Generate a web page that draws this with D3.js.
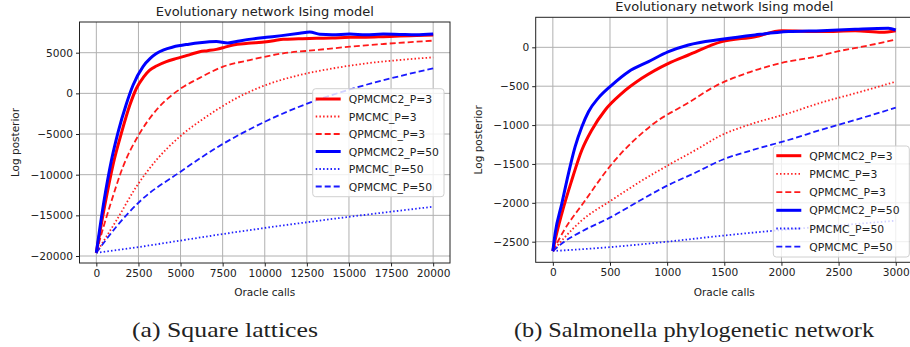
<!DOCTYPE html>
<html>
<head>
<meta charset="utf-8">
<script src="https://cdn.jsdelivr.net/npm/d3@7"></script>
<style>
  body { margin: 0; background: #fff; }
  svg text { font-family: "DejaVu Sans", sans-serif; fill: #222; }
</style>
</head>
<body>
<script>
var width = 910, height = 347;

var seriesNames = ["QPMCMC2_P=3", "PMCMC_P=3", "QPMCMC_P=3",
                   "QPMCMC2_P=50", "PMCMC_P=50", "QPMCMC_P=50"];
var seriesColor = ["#ff0000", "#ff2020", "#ff1a1a", "#0000ff", "#2020ff", "#1a1aff"];
var seriesKind = ["solid", "dotted", "dashed", "solid", "dotted", "dashed"];

// (a) square lattices: [oracle calls, log posterior]
var latQPMCMC2_P3 = [[0,-19600],[500,-13800],[1000,-8700],[1500,-4800],[1980,-1500],[2376,600],
  [2800,2000],[3168,2870],[3600,3400],[4158,3900],[4600,4200],[5148,4510],[5600,4800],
  [6138,5125],[6600,5250],[7128,5410],[7600,5650],[8118,5945],[9000,6150],[10099,6355],[10600,6500],
  [11089,6640],[12000,6700],[13069,6765],[14000,6800],[15050,6890],[16000,6900],[17030,6970],
  [18000,7050],[19000,7100],[20000,7175]];
var latPMCMC_P3 = [[0,-19600],[600,-17600],[1200,-15600],[2376,-11480],[3564,-8200],[4950,-5330],
  [6534,-2870],[8118,-820],[9703,740],[12079,2255],[14059,3075],[16040,3690],[18000,4100],[20000,4430]];
var latQPMCMC_P3 = [[0,-19600],[400,-16600],[792,-13940],[1584,-9020],[2574,-4920],[3564,-2050],
  [4950,500],[6138,1900],[7524,3280],[9109,4100],[11089,4920],[13069,5330],[15050,5740],
  [17030,6070],[20000,6480]];
var latQPMCMC2_P50 = [[0,-19600],[450,-13300],[900,-8200],[1300,-4700],[1782,-1300],[2178,1000],
  [2772,3300],[3200,4300],[3564,4900],[4000,5350],[4554,5700],[5500,6050],[6138,6230],
  [7128,6380],[7800,6200],[8500,6450],[9300,6700],[10099,6890],[11000,7100],[12079,7380],
  [12673,7550],[13267,7260],[14000,7200],[15050,7300],[16000,7200],[17030,7300],[18000,7250],
  [19000,7200],[20000,7300]];
var latPMCMC_P50 = [[0,-19600],[2500,-18900],[5000,-18100],[7500,-17300],[10000,-16550],
  [12500,-15850],[15050,-15170],[17500,-14550],[20000,-13940]];
var latQPMCMC_P50 = [[0,-19600],[1188,-16400],[2574,-13300],[4950,-9700],[7128,-6700],
  [10099,-3400],[12475,-1300],[15000,450],[17500,1850],[20000,3075]];

// (b) salmonella phylogenetic network
var salQPMCMC2_P3 = [[0,-2620],[20,-2478],[79,-2135],[166,-1707],[254,-1321],[341,-1063],
  [458,-806],[603,-592],[778,-399],[1012,-206],[1186,-99],[1478,73],[1769,137],[2003,214],
  [2352,202],[2644,214],[2877,193],[3000,214]];
var salPMCMC_P3 = [[0,-2620],[100,-2450],[250,-2230],[516,-1964],[750,-1740],[1012,-1514],
  [1250,-1320],[1478,-1128],[1750,-980],[2061,-849],[2350,-710],[2644,-592],[3000,-442]];
var salQPMCMC_P3 = [[0,-2620],[100,-2350],[268,-2000],[516,-1500],[866,-1000],[1200,-700],
  [1420,-500],[1700,-330],[2003,-200],[2300,-120],[2500,-50],[2750,20],[3000,100]];
var salQPMCMC2_P50 = [[0,-2620],[20,-2393],[79,-2007],[137,-1621],[195,-1278],[254,-1021],
  [312,-828],[399,-650],[516,-485],[662,-313],[837,-184],[1012,-56],[1186,30],[1478,103],
  [1769,159],[2061,202],[2352,214],[2644,232],[2935,244],[3000,223]];
var salPMCMC_P50 = [[0,-2620],[500,-2570],[1000,-2500],[1500,-2420],[2000,-2350],[2500,-2290],[3000,-2230]];
var salQPMCMC_P50 = [[0,-2620],[100,-2500],[250,-2370],[516,-2178],[750,-1980],[1012,-1771],
  [1250,-1610],[1478,-1449],[1750,-1320],[2061,-1192],[2350,-1060],[2644,-935],[3000,-776]];

var latXTicks = d3.range(0, 20001, 2500), latYTicks = d3.range(-20000, 5001, 5000);
var salXTicks = d3.range(0, 3001, 500), salYTicks = d3.range(-2500, 1, 500);

var captions = ["(a) Square lattices", "(b) Salmonella phylogenetic network"];

var svg = d3.select("body").append("svg")
  .attr("width", width).attr("height", height);

var fmt = function(v) { return d3.format("d")(v).replace("-", "\u2212"); };

function dash(kind) {
  return kind == "dotted" ? "1.5,2.2" : kind == "dashed" ? "6,3" : null;
}

function drawPanel(p) {
  var x = d3.scaleLinear().domain(p.xdom).range([p.left, p.right]);
  var y = d3.scaleLinear().domain(p.ydom).range([p.bottom, p.top]);
  var g = svg.append("g");

  // grid
  g.selectAll(".gx").data(p.xticks).enter().append("line")
    .attr("x1", d => x(d)).attr("x2", d => x(d))
    .attr("y1", p.top).attr("y2", p.bottom)
    .attr("stroke", "#b0b0b0").attr("stroke-width", 1);
  g.selectAll(".gy").data(p.yticks).enter().append("line")
    .attr("y1", d => y(d)).attr("y2", d => y(d))
    .attr("x1", p.left).attr("x2", p.right)
    .attr("stroke", "#b0b0b0").attr("stroke-width", 1);

  var clipId = "clip" + p.id;
  svg.append("clipPath").attr("id", clipId).append("rect")
    .attr("x", p.left).attr("y", p.top)
    .attr("width", p.right - p.left).attr("height", p.bottom - p.top);

  var line = d3.line().x(d => x(d[0])).y(d => y(d[1])).curve(d3.curveMonotoneX);
  [1, 4, 2, 5, 0, 3].forEach(function(i) {
    g.append("path").datum(p.series[i])
      .attr("clip-path", "url(#" + clipId + ")")
      .attr("d", line).attr("fill", "none")
      .attr("stroke", seriesColor[i])
      .attr("stroke-width", seriesKind[i] == "solid" ? 3 : 1.8)
      .attr("stroke-dasharray", dash(seriesKind[i]));
  });

  // frame
  g.append("rect").attr("x", p.left).attr("y", p.top)
    .attr("width", p.right - p.left).attr("height", p.bottom - p.top)
    .attr("fill", "none").attr("stroke", "#222").attr("stroke-width", 1);

  // axes
  var xa = g.append("g").attr("transform", "translate(0," + p.bottom + ")")
    .call(d3.axisBottom(x).tickValues(p.xticks).tickFormat(fmt).tickSize(3.5).tickPadding(3));
  var ya = g.append("g").attr("transform", "translate(" + p.left + ",0)")
    .call(d3.axisLeft(y).tickValues(p.yticks).tickFormat(fmt).tickSize(3.5).tickPadding(3));
  [xa, ya].forEach(function(a) {
    a.select(".domain").remove();
    a.selectAll("line").attr("stroke", "#222");
    a.selectAll("text").attr("font-size", 10.6).attr("fill", "#222")
      .attr("font-family", "DejaVu Sans");
  });

  g.append("text").attr("x", (p.left + p.right) / 2).attr("y", p.titleY)
    .attr("text-anchor", "middle").attr("font-size", 13)
    .text("Evolutionary network Ising model");
  g.append("text").attr("x", (p.left + p.right) / 2).attr("y", 296)
    .attr("text-anchor", "middle").attr("font-size", 10.5)
    .text("Oracle calls");
  g.append("text").attr("transform", "translate(" + p.ylabX + "," + ((p.top + p.bottom) / 2) + ") rotate(-90)")
    .attr("text-anchor", "middle").attr("font-size", 10.5)
    .text("Log posterior");

  // legend
  var lg = g.append("g");
  lg.append("rect").attr("x", p.leg.x).attr("y", p.leg.y)
    .attr("width", p.leg.w).attr("height", p.leg.h).attr("rx", 3)
    .attr("fill", "#fff").attr("fill-opacity", 0.8)
    .attr("stroke", "#d0d0d0").attr("stroke-width", 1);
  seriesNames.forEach(function(name, i) {
    var ry = p.leg.row0 + i * p.leg.step;
    lg.append("line").attr("x1", p.leg.x + 3).attr("x2", p.leg.x + 28)
      .attr("y1", ry).attr("y2", ry)
      .attr("stroke", seriesColor[i])
      .attr("stroke-width", seriesKind[i] == "solid" ? 3 : 1.8)
      .attr("stroke-dasharray", dash(seriesKind[i]));
    lg.append("text").attr("x", p.leg.x + 36).attr("y", ry + 4)
      .attr("font-size", 10.8).text(name);
  });

  svg.append("text").attr("x", p.capX).attr("y", 337)
    .attr("text-anchor", "middle")
    .attr("textLength", p.capW).attr("lengthAdjust", "spacingAndGlyphs")
    .style("font-family", "'Liberation Serif', serif").style("font-size", "21px")
    .text(p.caption);
}

drawPanel({
  id: "a", left: 79.5, right: 450, top: 22, bottom: 263,
  xdom: [-1000, 21000], ydom: [-20860, 8775],
  xticks: latXTicks, yticks: latYTicks, titleY: 15.5, ylabX: 19,
  series: [latQPMCMC2_P3, latPMCMC_P3, latQPMCMC_P3, latQPMCMC2_P50, latPMCMC_P50, latQPMCMC_P50],
  leg: { x: 312.7, y: 88.7, w: 131.3, h: 108, row0: 99, step: 17.5 },
  capX: 225, capW: 186, caption: captions[0]
});

drawPanel({
  id: "b", left: 535.7, right: 912.9, top: 17.3, bottom: 262.3,
  xdom: [-150, 3150], ydom: [-2765, 386],
  xticks: salXTicks, yticks: salYTicks, titleY: 11, ylabX: 482,
  series: [salQPMCMC2_P3, salPMCMC_P3, salQPMCMC_P3, salQPMCMC2_P50, salPMCMC_P50, salQPMCMC_P50],
  leg: { x: 773.3, y: 146, w: 136, h: 111, row0: 155.7, step: 18.2 },
  capX: 694, capW: 360, caption: captions[1]
});
</script>
</body>
</html>
